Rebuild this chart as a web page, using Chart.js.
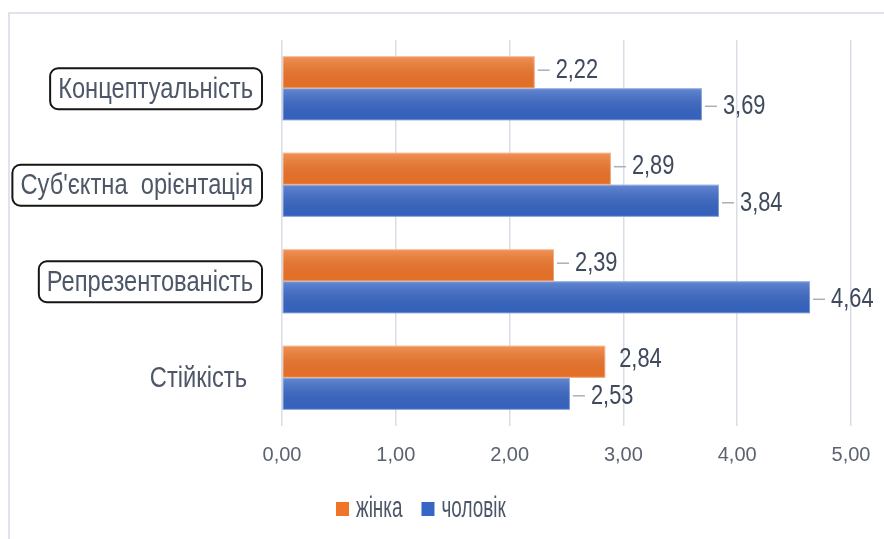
<!DOCTYPE html>
<html>
<head>
<meta charset="utf-8">
<script src="https://cdn.jsdelivr.net/npm/chart.js@4.4.1/dist/chart.umd.min.js"></script>
<style>
  html, body { margin: 0; padding: 0; background: #fff; }
  #wrap { width: 884px; height: 539px; }
</style>
</head>
<body>
<div id="wrap"><canvas id="myChart" width="884" height="539"></canvas></div>
<script>
// дані з діаграми
const categories = ['Концептуальність', "Суб'єктна  орієнтація", 'Репрезентованість', 'Стійкість'];
const zhinka = [2.22, 2.89, 2.39, 2.84];
const cholovik = [3.69, 3.84, 4.64, 2.53];
const seriesNames = ['жінка', 'чоловік'];
const seriesColors = ['#EF7428', '#3766C6'];
const xTicks = [0, 1, 2, 3, 4, 5];
const boxedLabels = [true, true, true, false];

const fmt = v => v.toFixed(2).replace('.', ',');

// текст, стиснутий по горизонталі
function squeezeText(ctx, txt, x, y, align, sx) {
  ctx.save();
  ctx.translate(x, y);
  ctx.scale(sx, 1);
  ctx.textAlign = align;
  ctx.textBaseline = 'middle';
  ctx.fillText(txt, 0, 0);
  ctx.restore();
}

const framePlugin = {
  id: 'frame',
  beforeDraw(chart) {
    const ctx = chart.ctx;
    ctx.save();
    ctx.fillStyle = '#fff';
    ctx.fillRect(0, 0, chart.width, chart.height);
    ctx.strokeStyle = '#dfe3eb';
    ctx.lineWidth = 2;
    ctx.beginPath();
    ctx.moveTo(9, chart.height);
    ctx.lineTo(9, 13);
    ctx.lineTo(chart.width, 13);
    ctx.stroke();
    ctx.restore();
  }
};

const barShade = {
  id: 'barShade',
  afterDatasetsDraw(chart) {
    const ctx = chart.ctx;
    chart.data.datasets.forEach((ds, di) => {
      chart.getDatasetMeta(di).data.forEach(el => {
        const p = el.getProps(['x', 'y', 'base', 'height'], true);
        const top = p.y - p.height / 2;
        const g = ctx.createLinearGradient(0, top, 0, top + p.height);
        g.addColorStop(0, 'rgba(255,255,255,0.22)');
        g.addColorStop(1, 'rgba(0,0,0,0.04)');
        ctx.save();
        ctx.fillStyle = g;
        ctx.fillRect(p.base, top, p.x - p.base, p.height);
        ctx.strokeStyle = 'rgba(255,255,255,0.35)';
        ctx.lineWidth = 1;
        ctx.strokeRect(p.base + 0.5, top + 0.5, p.x - p.base - 1, p.height - 1);
        ctx.restore();
      });
    });
  }
};

const valueLabels = {
  id: 'valueLabels',
  afterDatasetsDraw(chart) {
    const ctx = chart.ctx;
    ctx.save();
    ctx.font = '28px "Liberation Sans", Arial, sans-serif';
    ctx.fillStyle = '#3f4a5c';
    chart.data.datasets.forEach((ds, di) => {
      chart.getDatasetMeta(di).data.forEach((el, i) => {
        const p = el.getProps(['x', 'y'], true);
        const dy = di === 0 ? -2 : 2;
        const leader = !(di === 0 && i === 3);
        if (leader) {
          ctx.strokeStyle = '#a9b0bb';
          ctx.lineWidth = 1.5;
          ctx.beginPath();
          ctx.moveTo(p.x + 3, p.y + dy);
          ctx.lineTo(p.x + 15, p.y + dy);
          ctx.stroke();
          squeezeText(ctx, fmt(ds.data[i]), p.x + 21, p.y + dy, 'left', 0.78);
        } else {
          squeezeText(ctx, fmt(ds.data[i]), p.x + 14, p.y + dy, 'left', 0.78);
        }
      });
    });
    ctx.restore();
  }
};

const categoryLabels = {
  id: 'categoryLabels',
  afterDraw(chart) {
    const ctx = chart.ctx;
    const y = chart.scales.y;
    const sx = 0.79;
    ctx.save();
    ctx.font = '30px "Liberation Sans", Arial, sans-serif';
    categories.forEach((c, i) => {
      const cy = y.getPixelForValue(i);
      const right = boxedLabels[i] ? 253 : 247;
      const w = ctx.measureText(c).width * sx;
      if (boxedLabels[i]) {
        ctx.strokeStyle = '#151515';
        ctx.lineWidth = 2;
        ctx.beginPath();
        ctx.roundRect(right - w - 8, cy - 20, w + 17, 41, 8);
        ctx.stroke();
      }
      ctx.fillStyle = '#4d5768';
      squeezeText(ctx, c, right, cy + 1, 'right', sx);
    });
    ctx.restore();
  }
};

const legendPlugin = {
  id: 'customLegend',
  afterDraw(chart) {
    const ctx = chart.ctx;
    const sx = 0.63;
    ctx.save();
    ctx.font = '30px "Liberation Sans", Arial, sans-serif';
    const items = seriesNames.map(n => ctx.measureText(n).width * sx);
    const gap = 19, box = 14, between = 6;
    let x = 336;
    const cy = 509;
    seriesNames.forEach((n, i) => {
      ctx.fillStyle = seriesColors[i];
      ctx.fillRect(x, cy - 7, box - 1, box);
      x += box + between;
      ctx.fillStyle = '#4d5768';
      squeezeText(ctx, n, x, cy, 'left', sx);
      x += items[i] + gap;
    });
    ctx.restore();
  }
};

const ctx = document.getElementById('myChart').getContext('2d');
new Chart(ctx, {
  type: 'bar',
  data: {
    labels: categories,
    datasets: [
      { label: seriesNames[0], data: zhinka, backgroundColor: seriesColors[0], borderWidth: 0,
        categoryPercentage: 0.665, barPercentage: 1 },
      { label: seriesNames[1], data: cholovik, backgroundColor: seriesColors[1], borderWidth: 0,
        categoryPercentage: 0.665, barPercentage: 1 }
    ]
  },
  options: {
    indexAxis: 'y',
    responsive: false,
    animation: false,
    devicePixelRatio: 1,
    layout: { padding: { left: 282, right: 33, top: 40, bottom: 0 } },
    scales: {
      x: {
        min: 0,
        max: 5,
        afterFit(scale) {
          scale.height = 113;
          scale.paddingLeft = 0;
          scale.paddingRight = 0;
        },
        afterBuildTicks(scale) { scale.ticks = xTicks.map(v => ({ value: v })); },
        grid: { color: '#d9dde7', lineWidth: 1.5, drawTicks: false },
        border: { display: false },
        ticks: {
          padding: 17,
          color: '#5b6270',
          font: { family: '"Liberation Sans", Arial, sans-serif', size: 20 },
          callback: v => fmt(v)
        }
      },
      y: { display: false, grid: { display: false } }
    },
    plugins: {
      legend: { display: false },
      tooltip: { enabled: false }
    }
  },
  plugins: [framePlugin, barShade, valueLabels, categoryLabels, legendPlugin]
});
</script>
</body>
</html>
